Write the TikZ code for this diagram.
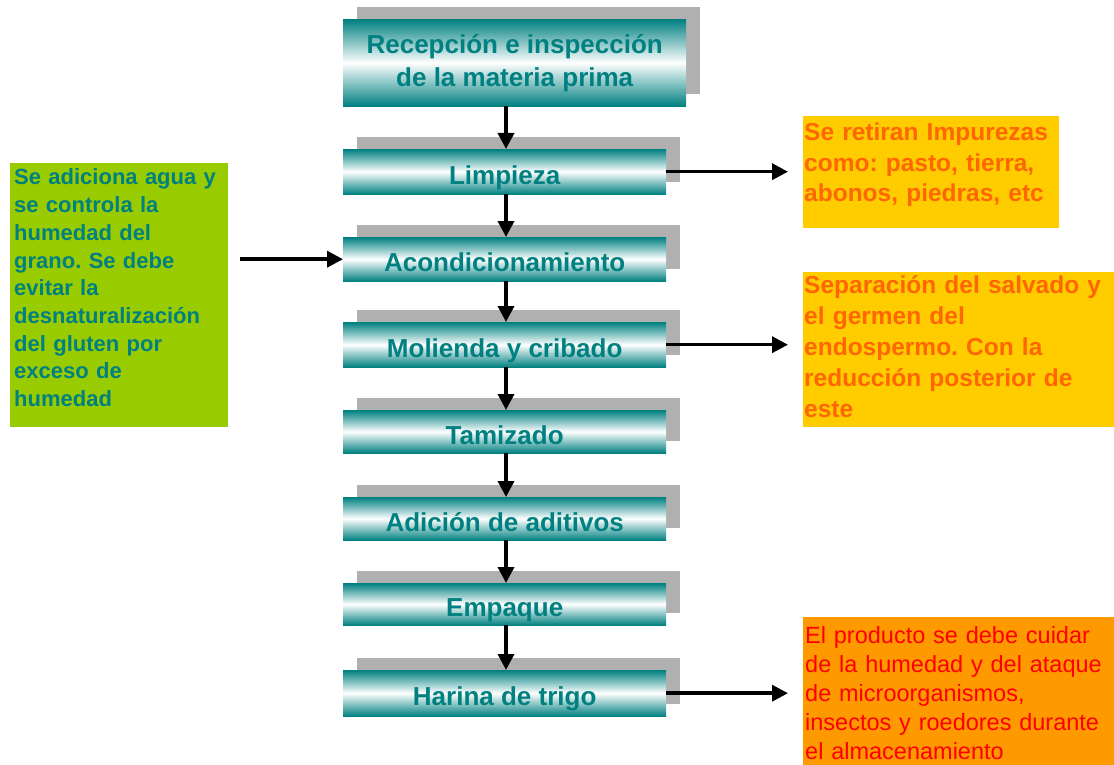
\documentclass[tikz,border=0pt]{standalone}
\usepackage{fontspec}
\setmainfont{Liberation Sans}
\usetikzlibrary{arrows.meta,shadows}
\definecolor{tealc}{RGB}{0,128,128}
\definecolor{shadowgray}{RGB}{176,176,176}
\definecolor{leafgreen}{RGB}{153,204,0}
\definecolor{amber}{RGB}{255,204,0}
\definecolor{deeporange}{RGB}{255,153,0}
\definecolor{burnt}{RGB}{255,102,0}
\definecolor{alertred}{RGB}{255,0,0}
\frenchspacing
\begin{document}
\begin{tikzpicture}[x=1pt,y=-1pt,
  stepbox/.style={rectangle, inner sep=0pt, anchor=north west,
    top color=tealc, bottom color=tealc, middle color=white,
    text=tealc, font=\fontsize{26}{33}\selectfont\bfseries, align=center,
    general shadow={fill=shadowgray, shadow xshift=14pt, shadow yshift=12pt}},
  oneline/.style={text height=25pt, text depth=0pt},
  flowarrow/.style={line width=3.5pt, -{Triangle[length=16pt,width=16pt]}},
  notebox/.style={rectangle, inner sep=0pt, anchor=north west},
  notetext/.style={anchor=base west, inner sep=0pt, align=left}
]
\useasboundingbox[fill=white] (0,0) rectangle (1114,765);
\coordinate (spine) at (506,0);

% process steps
\node[stepbox, minimum width=343pt, minimum height=87pt] (recv) at (343,19)
  {Recepción e inspección\\de la materia prima};
\node[stepbox, oneline, minimum width=323pt, minimum height=45pt] (clean) at (343,149) {Limpieza};
\node[stepbox, oneline, minimum width=323pt, minimum height=44pt] (cond) at (343,237) {Acondicionamiento};
\node[stepbox, oneline, minimum width=323pt, minimum height=45pt] (mill) at (343,322) {Molienda y cribado};
\node[stepbox, oneline, minimum width=323pt, minimum height=43pt] (sieve) at (343,410) {Tamizado};
\node[stepbox, oneline, minimum width=323pt, minimum height=43pt] (addit) at (343,497) {Adición de aditivos};
\node[stepbox, oneline, minimum width=323pt, minimum height=42pt] (pack) at (343,583) {Empaque};
\node[stepbox, oneline, minimum width=323pt, minimum height=46pt] (flour) at (343,670) {Harina de trigo};

% side notes
\node[notebox, fill=leafgreen, minimum width=218pt, minimum height=264pt] (water) at (10,163) {};
\node[notetext, text width=214pt, text=tealc,
  font=\fontsize{22}{27.7}\selectfont\bfseries] (watertxt) at (14,185)
  {Se adiciona agua y\\se controla la\\humedad del\\grano. Se debe\\evitar la\\desnaturalización\\del gluten por\\exceso de\\humedad};

\node[notebox, fill=amber, minimum width=256pt, minimum height=112pt] (dirt) at (803,116) {};
\node[notetext, text width=252pt, text=burnt,
  font=\fontsize{24.5}{30.5}\selectfont\bfseries] (dirttxt) at (804,141)
  {Se retiran Impurezas\\como: pasto, tierra,\\abonos, piedras, etc};

\node[notebox, fill=amber, minimum width=311pt, minimum height=155pt] (bran) at (803,272) {};
\node[notetext, text width=308pt, text=burnt,
  font=\fontsize{24.5}{31}\selectfont\bfseries] (brantxt) at (804,293)
  {Separación del salvado y\\el germen del\\endospermo. Con la\\reducción posterior de\\este};

\node[notebox, fill=deeporange, minimum width=311pt, minimum height=148pt] (store) at (803,617) {};
\node[notetext, text width=340pt, text=alertred,
  font=\fontsize{23.5}{29}\selectfont] (storetxt) at (805,643)
  {El producto se debe cuidar\\de la humedad y del ataque\\de microorganismos,\\insectos y roedores durante\\el almacenamiento};

% flow between steps
\draw[flowarrow] (recv.south -| spine) -- (clean.north -| spine);
\draw[flowarrow] (clean.south -| spine) -- (cond.north -| spine);
\draw[flowarrow] (cond.south -| spine) -- (mill.north -| spine);
\draw[flowarrow] (mill.south -| spine) -- (sieve.north -| spine);
\draw[flowarrow] (sieve.south -| spine) -- (addit.north -| spine);
\draw[flowarrow] (addit.south -| spine) -- (pack.north -| spine);
\draw[flowarrow] (pack.south -| spine) -- (flour.north -| spine);

% links to the notes
\draw[flowarrow, shorten <=12pt] (water.east |- cond.west) -- (cond.west);
\draw[flowarrow, shorten >=15pt] (clean.east) -- (dirt.west |- clean.east);
\draw[flowarrow, shorten >=15pt] (mill.east) -- (bran.west |- mill.east);
\draw[flowarrow, shorten >=15pt] (flour.east) -- (store.west |- flour.east);
\end{tikzpicture}
\end{document}
